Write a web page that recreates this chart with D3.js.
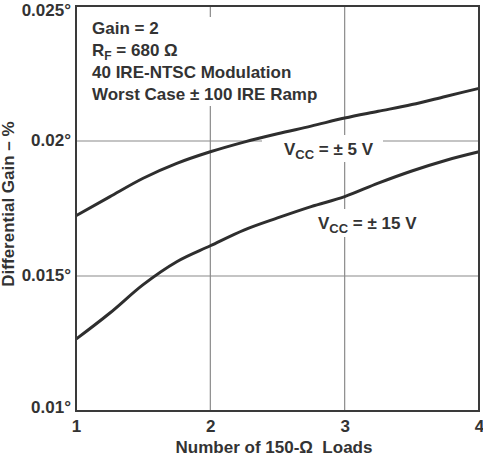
<!DOCTYPE html>
<html>
<head>
<meta charset="utf-8">
<script src="https://cdn.jsdelivr.net/npm/d3@7"></script>
<style>
  html, body { margin: 0; padding: 0; background: #fff; }
  svg { display: block; font-family: "Liberation Sans", Arial, sans-serif; font-weight: bold; }
  text { fill: #333; }
</style>
</head>
<body>
<svg id="chart" width="483" height="457"></svg>
<script>
// ---- data ----
const loads = [1, 1.25, 1.5, 1.75, 2, 2.25, 2.5, 2.75, 3, 3.25, 3.5, 3.75, 4];
const gainVcc5 = [0.01723, 0.01793, 0.01862, 0.01917, 0.01960, 0.01996, 0.02027, 0.02055, 0.02085, 0.02110, 0.02135, 0.02165, 0.02195];
const gainVcc15 = [0.01266, 0.01362, 0.01468, 0.01553, 0.01612, 0.01670, 0.01715, 0.01757, 0.01794, 0.01844, 0.01889, 0.01928, 0.01960];
const xTicks = [1, 2, 3, 4];
const yTicks = [0.01, 0.015, 0.02, 0.025];
const yTickLabels = ["0.01°", "0.015°", "0.02°", "0.025°"];
const notes = ["Gain = 2", "R_F = 680 Ω", "40 IRE-NTSC Modulation", "Worst Case ± 100 IRE Ramp"];
const xTitle = "Number of 150-Ω  Loads";
const yTitle = "Differential Gain – %";

// ---- layout ----
const FS = 17, SUB = 12;
const svg = d3.select("#chart");
const L = 76, R = 479, T = 6, B = 411;
const x = d3.scaleLinear().domain([1, 4]).range([L, R]);
const y = d3.scaleLinear().domain([0.01, 0.025]).range([B, T]);

// gridlines
const grid = svg.append("g").attr("stroke", "#8a8a8a").attr("stroke-width", 1.2);
xTicks.slice(1, -1).forEach(v => grid.append("line")
  .attr("x1", x(v)).attr("x2", x(v)).attr("y1", T).attr("y2", B));
yTicks.slice(1, -1).forEach(v => grid.append("line")
  .attr("x1", L).attr("x2", R).attr("y1", y(v)).attr("y2", y(v)));

// white label backgrounds (hide gridlines, under curves)
const bg = svg.append("g").attr("fill", "#fff");
bg.append("rect").attr("x", 88).attr("y", 17).attr("width", 236).attr("height", 89);
bg.append("rect").attr("x", 262).attr("y", 135).attr("width", 121).attr("height", 27);
bg.append("rect").attr("x", 300).attr("y", 209).attr("width", 123).attr("height", 28);

// curves
const line = d3.line().x(d => x(d[0])).y(d => y(d[1])).curve(d3.curveMonotoneX);
[gainVcc5, gainVcc15].forEach(s => {
  svg.append("path")
    .datum(loads.map((l, i) => [l, s[i]]))
    .attr("d", line)
    .attr("fill", "none")
    .attr("stroke", "#2e2e2e")
    .attr("stroke-width", 3);
});

// frame
svg.append("rect").attr("x", L).attr("y", T).attr("width", R - L).attr("height", B - T)
  .attr("fill", "none").attr("stroke", "#3a3a3a").attr("stroke-width", 2);

// axes (library axes, domain hidden, tick marks zero-length)
const xAxis = svg.append("g").attr("transform", `translate(0,${B})`)
  .call(d3.axisBottom(x).tickValues(xTicks).tickFormat(d3.format("d")).tickSize(0).tickPadding(9));
xAxis.select(".domain").remove();
xAxis.selectAll("text").attr("font-size", FS).attr("font-family", "Liberation Sans, Arial, sans-serif")
  .attr("font-weight", "bold").attr("fill", "#333").attr("dy", "0.71em");

const yAxis = svg.append("g").attr("transform", `translate(${L},0)`)
  .call(d3.axisLeft(y).tickValues(yTicks).tickFormat((d, i) => yTickLabels[i]).tickSize(0).tickPadding(5));
yAxis.select(".domain").remove();
yAxis.selectAll("text").attr("font-size", FS).attr("font-family", "Liberation Sans, Arial, sans-serif")
  .attr("font-weight", "bold").attr("fill", "#333")
  .attr("dy", d => d === 0.025 ? "0.55em" : (d === 0.01 ? "0.1em" : "0.25em"));

// axis titles
svg.append("text").attr("x", 274).attr("y", 453).attr("text-anchor", "middle")
  .attr("font-size", FS).style("white-space", "pre").text(xTitle);
svg.append("text").attr("transform", `translate(14,${204}) rotate(-90)`)
  .attr("text-anchor", "middle").attr("font-size", FS).text(yTitle);

// notes
notes.forEach((n, i) => {
  const t = svg.append("text").attr("x", 92).attr("y", 33.5 + i * 22).attr("font-size", FS);
  if (n.startsWith("R_F")) {
    t.append("tspan").text("R");
    t.append("tspan").attr("font-size", SUB).attr("dy", 4).text("F");
    t.append("tspan").attr("dy", -4).text(n.slice(3));
  } else {
    t.text(n);
  }
});

// curve labels
function vccLabel(xPos, yBase, value) {
  const t = svg.append("text").attr("x", xPos).attr("y", yBase).attr("font-size", FS);
  t.append("tspan").text("V");
  t.append("tspan").attr("font-size", SUB + 1).attr("dy", 4).text("CC");
  t.append("tspan").attr("dy", -4).text(" = ± " + value + " V");
}
vccLabel(284, 155, 5);
vccLabel(318, 229, 15);
</script>
</body>
</html>
